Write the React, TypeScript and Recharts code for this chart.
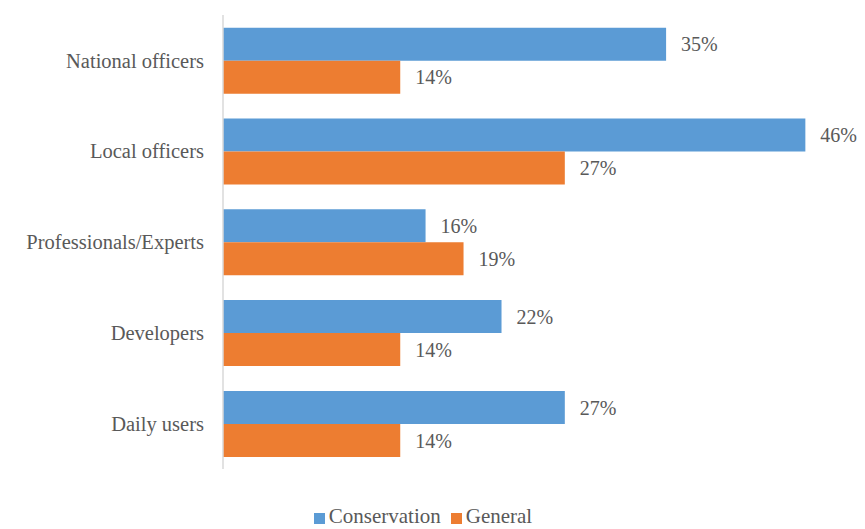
import { Bar, BarChart, LabelList, Legend, XAxis, YAxis } from 'recharts'

const categories = ['National officers', 'Local officers', 'Professionals/Experts', 'Developers', 'Daily users']
const conservation = [35, 46, 16, 22, 27]
const general = [14, 27, 19, 14, 14]

const data = categories.map((label, i) => ({
  label,
  conservation: conservation[i],
  general: general[i],
}))

const FONT = '"Liberation Serif", "Times New Roman", serif'
const TEXT = '#595959'

export default function App() {
  return (
    <div style={{ position: 'absolute', left: 0, top: 0, background: '#fff', fontFamily: FONT }}>
      <BarChart
        width={865}
        height={529}
        data={data}
        layout="vertical"
        margin={{ top: 15, right: 9, bottom: 0, left: 0 }}
        barCategoryGap="14%"
        barGap={0}
        style={{ fontFamily: FONT }}
      >
        <XAxis type="number" domain={[0, 50]} tick={false} axisLine={false} tickLine={false} height={35} />
        <YAxis
          dataKey="label"
          type="category"
          width={223}
          tickLine={false}
          axisLine={{ stroke: '#d9d9d9', strokeWidth: 1.5 }}
          tickMargin={13}
          tick={{ fontSize: 20.5, fill: TEXT, fontFamily: FONT }}
        />
        <Legend
          verticalAlign="bottom"
          iconType="square"
          iconSize={11}
          wrapperStyle={{ fontSize: 21, fontFamily: FONT, color: TEXT }}
          formatter={(value) => <span style={{ color: TEXT, fontFamily: FONT }}>{value}</span>}
        />
        <Bar dataKey="conservation" name="Conservation" fill="#5b9bd5" isAnimationActive={false}>
          <LabelList
            dataKey="conservation"
            position="right"
            offset={15}
            formatter={(v) => `${v}%`}
            fontFamily={FONT}
            fontSize={20}
            fill={TEXT}
          />
        </Bar>
        <Bar dataKey="general" name="General" fill="#ed7d31" isAnimationActive={false}>
          <LabelList
            dataKey="general"
            position="right"
            offset={15}
            formatter={(v) => `${v}%`}
            fontFamily={FONT}
            fontSize={20}
            fill={TEXT}
          />
        </Bar>
      </BarChart>
    </div>
  )
}
